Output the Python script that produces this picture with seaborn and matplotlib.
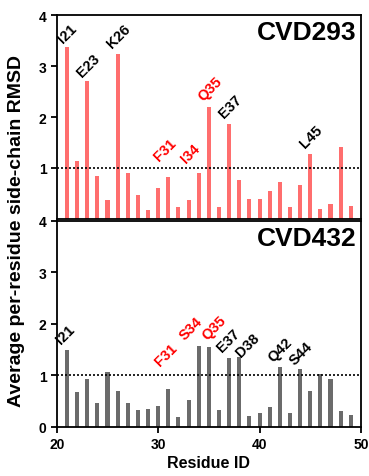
import numpy as np
import pandas as pd
import matplotlib
matplotlib.use("Agg")
import matplotlib.pyplot as plt
import seaborn as sns

residues = list(range(21, 50))
rmsd_293 = [3.38, 1.13, 2.70, 0.85, 0.37, 3.24, 0.91, 0.47, 0.18, 0.60,
            0.83, 0.23, 0.38, 0.91, 2.20, 0.23, 1.87, 0.77, 0.39, 0.39,
            0.54, 0.73, 0.23, 0.67, 1.28, 0.19, 0.30, 1.42, 0.26]
rmsd_432 = [1.50, 0.67, 0.93, 0.46, 1.06, 0.69, 0.47, 0.32, 0.34, 0.40,
            0.73, 0.19, 0.52, 1.57, 1.55, 0.32, 1.34, 1.35, 0.22, 0.26,
            0.39, 1.16, 0.27, 1.12, 0.69, 1.03, 0.92, 0.30, 0.24]

# labelled residues: (residue, text, red?, dx px, dy px)
labels_293 = [(21, "I21", False, -3, 3), (23, "E23", False, -4, 3),
              (26, "K26", False, -4, 4), (31, "F31", True, -7, 11),
              (34, "I34", True, -9, 7), (35, "Q35", True, -4, 4),
              (37, "E37", False, -4, 4), (45, "L45", False, -4, 4)]
labels_432 = [(21, "I21", False, -4, 4), (31, "F31", True, -6, 17),
              (34, "S34", True, -10, 4), (35, "Q35", True, -1, 5),
              (37, "E37", False, -5, 4), (38, "D38", False, 1, 0),
              (42, "Q42", False, -5, 4), (44, "S44", False, -4, 3)]

sns.set_style("ticks")
plt.rcParams["font.family"] = ["Liberation Sans", "DejaVu Sans"]
plt.rcParams["font.weight"] = "bold"
for k in ["text.color", "axes.labelcolor", "xtick.color", "ytick.color", "axes.edgecolor"]:
    plt.rcParams[k] = "black"

fig = plt.figure(figsize=(3.69, 4.77), dpi=100)
ax1 = fig.add_axes([0.154, 0.539, 0.824, 0.427])
ax2 = fig.add_axes([0.154, 0.103, 0.824, 0.432])

panels = [(ax1, rmsd_293, labels_293, "#FF6E6E", "CVD293"),
          (ax2, rmsd_432, labels_432, "#6B6B6B", "CVD432")]

for ax, vals, labs, col, name in panels:
    df = pd.DataFrame({"res": residues, "rmsd": vals})
    sns.barplot(data=df, x="res", y="rmsd", native_scale=True, width=0.4,
                color=col, saturation=1, ax=ax, errorbar=None, linewidth=0)
    ax.axhline(1, color="black", ls=(0, (1.2, 1.2)), lw=1.2)
    ax.set_xlim(20, 50)
    ax.set_ylim(0, 4)
    ax.set_xlabel("")
    ax.set_ylabel("")
    for s in ax.spines.values():
        s.set_linewidth(1.3)
    ax.tick_params(width=1.3, length=4, labelsize=10)
    ax.text(0.985, 0.975, name, transform=ax.transAxes, ha="right", va="top",
            fontsize=19, fontweight="bold")
    for r, t, red, dx, dy in labs:
        v = vals[residues.index(r)]
        ax.annotate(t, (r, v), xytext=(dx, dy), textcoords="offset points",
                    rotation=45, rotation_mode="anchor", ha="left", va="baseline",
                    fontsize=10.5, fontweight="bold",
                    color="#FF0000" if red else "black")

ax1.set_yticks([1, 2, 3, 4])
ax1.set_xticks([30, 40])
ax1.tick_params(axis="x", direction="in", labelbottom=False)
ax2.set_yticks([0, 1, 2, 3, 4])
ax2.set_xticks([20, 30, 40, 50])
ax2.set_xlabel("Residue ID", fontsize=11.5, fontweight="bold", labelpad=3)

fig.text(0.045, 0.515, "Average per-residue side-chain RMSD", rotation=90,
         ha="center", va="center", fontsize=14, fontweight="bold")

fig.savefig("out.png", dpi=100)
